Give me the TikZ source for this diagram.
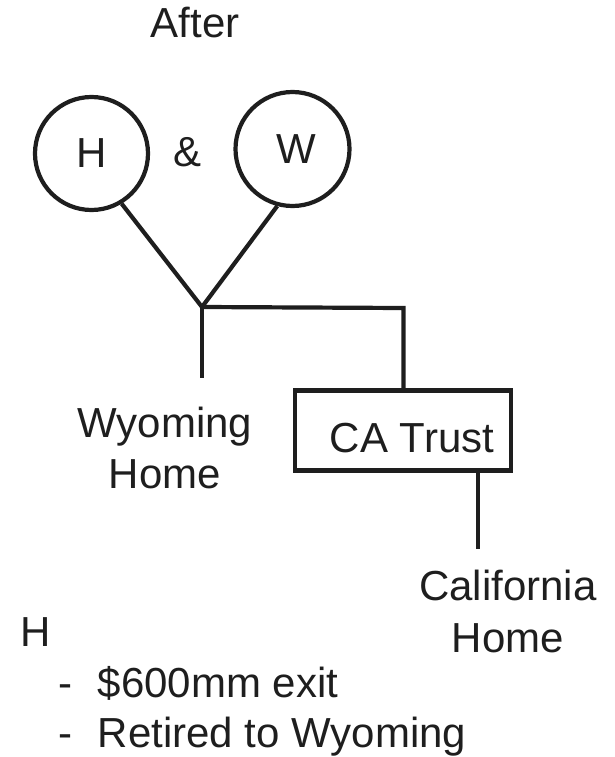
\documentclass[tikz,border=0pt]{standalone}
\usepackage{fontspec}
\setmainfont{Liberation Sans}
\definecolor{ink}{HTML}{1E1E1E}
\begin{document}
\begin{tikzpicture}[x=1pt,y=-1pt,
  every node/.style={text=ink,font=\fontsize{42}{51}\selectfont,inner sep=0pt},
  person/.style={draw=ink,line width=4.2pt,circle},
  trustbox/.style={draw=ink,line width=4.2pt,rectangle,minimum width=216pt,minimum height=80pt},
  lbl/.style={align=center,anchor=base},
  link/.style={draw=ink,line width=4.2pt}]
\useasboundingbox (0,0) rectangle (614,757);
\node[lbl] (after) at (195,38) {After};
\node[person,minimum size=113pt] (h) at (91.5,153.5) {};
\node[lbl] (htext) at (92,167) {H};
\node[person,minimum size=114pt] (w) at (292.5,149) {};
\node[lbl] (wtext) at (296,163) {W};
\node[lbl] (amp) at (188,166) {\&};
\coordinate (j) at (202,307);
\coordinate (jr) at (403.5,308);
\coordinate (wyend) at (202,378);
\node[trustbox] (ca) at (403,430.5) {};
\node[lbl] (catext) at (412,452) {CA Trust};
\coordinate (caend) at (478,549);
\draw[link] (h.-59) -- (j);
\draw[link] (w.-105) -- (j);
\draw[link] (j) -- (wyend);
\draw[link] (j) -- (jr) -- (jr |- ca.north);
\draw[link] (ca.south -| caend) -- (caend);
\node[lbl] (wy) at (165,488) {Wyoming\\Home};
\node[lbl,font=\fontsize{42}{52}\selectfont] (cal) at (508,652) {California\\Home};
\node[anchor=base west] (hh) at (20,646) {H};
\node[anchor=base west] (b1) at (58,697) {-\hspace{25.5pt}\$600mm exit};
\node[anchor=base west] (b2) at (58,747) {-\hspace{25.5pt}Retired to Wyoming};
\end{tikzpicture}
\end{document}
